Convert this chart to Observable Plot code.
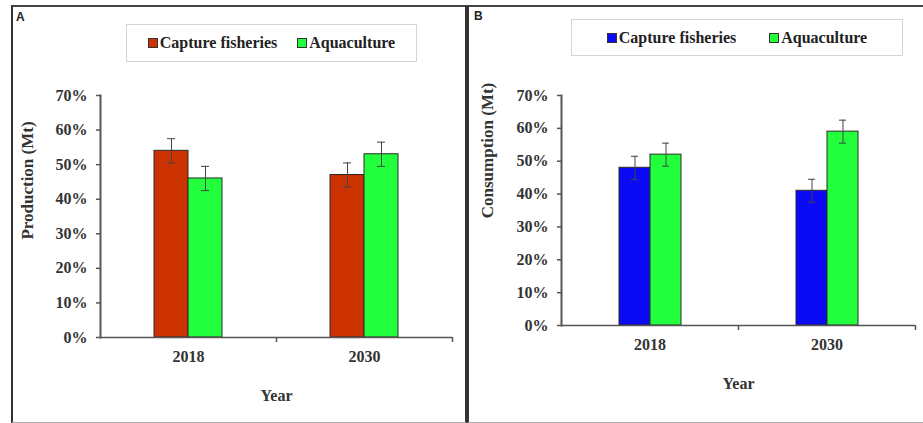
<!DOCTYPE html>
<html>
<head>
<meta charset="utf-8">
<script src="https://cdn.jsdelivr.net/npm/d3@7"></script>
<script src="https://cdn.jsdelivr.net/npm/@observablehq/plot@0.6"></script>
<style>
  body { margin: 0; background: #fff; }
  #root { position: relative; width: 923px; height: 423px; overflow: hidden; background: #fff; font-family: "Liberation Serif", serif; }
  .panel { position: absolute; box-sizing: border-box; }
  .tag { position: absolute; font-family: "Liberation Sans", Arial, sans-serif; font-weight: bold; font-size: 12px; color: #222; }
  .legend { position: absolute; box-sizing: border-box; border: 1px solid #d4d4d4; background: #fff; display: flex; align-items: center; justify-content: center; font-family: "Liberation Serif", serif; font-weight: bold; font-size: 16px; color: #222; white-space: nowrap; }
  .item { display: flex; align-items: center; }
  .sw { width: 8px; height: 8px; border: 1px solid #333; margin-right: 2px; }
  .chart { position: absolute; top: 0; }
</style>
</head>
<body>
<div id="root"></div>
<script>
// ---------- data ----------
const years = ["2018", "2030"];
const series = ["Capture fisheries", "Aquaculture"];
const yTicks = [0, 10, 20, 30, 40, 50, 60, 70];
const yTickLabels = ["0%", "10%", "20%", "30%", "40%", "50%", "60%", "70%"];

// Panel A: Production
const productionCapture = [54, 47];
const productionAquaculture = [46, 53];
const productionCaptureErr = [3.5, 3.5];
const productionAquacultureErr = [3.5, 3.5];

// Panel B: Consumption
const consumptionCapture = [48, 41];
const consumptionAquaculture = [52, 59];
const consumptionCaptureErr = [3.5, 3.5];
const consumptionAquacultureErr = [3.5, 3.5];

const colorsA = ["#cc3300", "#22ff3c"];
const colorsB = ["#0a0af5", "#22ff3c"];

function rows(cap, aqua, capErr, aquaErr) {
  const out = [];
  years.forEach((y, i) => {
    out.push({year: y, series: series[0], value: cap[i], err: capErr[i]});
    out.push({year: y, series: series[1], value: aqua[i], err: aquaErr[i]});
  });
  return out;
}

const root = document.getElementById("root");

function addPanel(cfg) {
  const p = document.createElement("div");
  p.className = "panel";
  Object.assign(p.style, cfg.box);
  root.appendChild(p);
  const t = document.createElement("div");
  t.className = "tag";
  t.textContent = cfg.tag;
  Object.assign(t.style, cfg.tagPos);
  root.appendChild(t);

  // legend
  const lg = document.createElement("div");
  lg.className = "legend";
  Object.assign(lg.style, cfg.legendPos);
  series.forEach((s, i) => {
    const it = document.createElement("div");
    it.className = "item";
    if (i > 0) it.style.marginLeft = cfg.legendGap + "px";
    const sw = document.createElement("div");
    sw.className = "sw";
    sw.style.background = cfg.colors[i];
    const tx = document.createElement("span");
    tx.textContent = s;
    it.appendChild(sw); it.appendChild(tx);
    lg.appendChild(it);
  });

  const data = cfg.data;
  const bw = (cfg.width - cfg.marginLeft - cfg.marginRight) / years.length;
  const chart = Plot.plot({
    width: cfg.width,
    height: 423,
    marginLeft: cfg.marginLeft,
    marginRight: cfg.marginRight,
    marginTop: cfg.marginTop,
    marginBottom: cfg.marginBottom,
    style: {background: "transparent", fontFamily: "'Liberation Serif', serif", fontWeight: "bold", color: "#333", overflow: "visible"},
    fx: {domain: years, padding: 0},
    x: {domain: series, paddingInner: 0, paddingOuter: cfg.po, axis: null},
    y: {domain: [0, 70]},
    color: {domain: series, range: cfg.colors},
    marks: [
      Plot.barY(data, {fx: "year", x: "series", y: "value", fill: "series", stroke: "#2a2a2a", strokeWidth: 1}),
      Plot.ruleX(data, {fx: "year", x: "series", y1: d => d.value - d.err, y2: d => d.value + d.err, stroke: "#444", strokeWidth: 1}),
      Plot.tickY(data, {fx: "year", x: "series", y: d => d.value - d.err, stroke: "#444", strokeWidth: 1, insetLeft: cfg.capInset, insetRight: cfg.capInset}),
      Plot.tickY(data, {fx: "year", x: "series", y: d => d.value + d.err, stroke: "#444", strokeWidth: 1, insetLeft: cfg.capInset, insetRight: cfg.capInset}),
      Plot.ruleY([0], {stroke: "#555", strokeWidth: 1.5}),
      Plot.frame({anchor: "left", fx: [years[0]], stroke: "#555", strokeWidth: 2}),
      Plot.axisY({ticks: yTicks, tickFormat: d => yTickLabels[yTicks.indexOf(d)], tickSize: 4, tickPadding: 9, fontSize: 16, label: null, stroke: "#555", strokeWidth: 1.5}),
      Plot.axisFx({anchor: "bottom", tickSize: 0, tickPadding: 13, fontSize: 16, label: "Year", labelAnchor: "center", labelOffset: 63}),
      Plot.axisFx({anchor: "bottom", tickSize: 5, tickFormat: () => "", label: null, dx: bw / 2, stroke: "#555", strokeWidth: 1.5}),
      Plot.text([cfg.yLabel], {fx: [years[0]], frameAnchor: "left", textAnchor: "middle", rotate: -90, dx: -cfg.yLabelOffset, dy: cfg.yLabelShift, fontSize: 17, fontWeight: "bold", fill: "#333"})
    ]
  });
  const wrap = document.createElement("div");
  wrap.className = "chart";
  wrap.style.left = cfg.left + "px";
  wrap.style.width = cfg.width + "px";
  wrap.appendChild(chart);
  root.appendChild(wrap);
  root.appendChild(lg);
}

addPanel({
  tag: "A",
  box: {left: "11px", top: "5px", width: "456px", height: "418px", borderLeft: "2px solid #333", borderTop: "2px solid #444", borderRight: "2px solid #333", borderBottom: "1px solid #aaa"},
  tagPos: {left: "16px", top: "10px"},
  legendPos: {left: "126px", top: "24px", width: "291px", height: "38px"},
  legendGap: 20,
  colors: colorsA,
  data: rows(productionCapture, productionAquaculture, productionCaptureErr, productionAquacultureErr),
  left: 0, width: 467,
  marginLeft: 100, marginRight: 15, marginTop: 95, marginBottom: 86,
  po: 1.55, capInset: 13,
  yLabel: "Production (Mt)", yLabelOffset: 73, yLabelShift: -36
});

addPanel({
  tag: "B",
  box: {left: "467px", top: "5px", width: "470px", height: "418px", borderLeft: "2px solid #333", borderTop: "2px solid #444", borderBottom: "1px solid #aaa"},
  tagPos: {left: "474px", top: "9px"},
  legendPos: {left: "571px", top: "19px", width: "332px", height: "37px"},
  legendGap: 33,
  colors: colorsB,
  data: rows(consumptionCapture, consumptionAquaculture, consumptionCaptureErr, consumptionAquacultureErr),
  left: 467, width: 456,
  marginLeft: 94, marginRight: 8, marginTop: 95, marginBottom: 98,
  po: 1.81, capInset: 12,
  yLabel: "Consumption (Mt)", yLabelOffset: 74, yLabelShift: -60
});
</script>
</body>
</html>
